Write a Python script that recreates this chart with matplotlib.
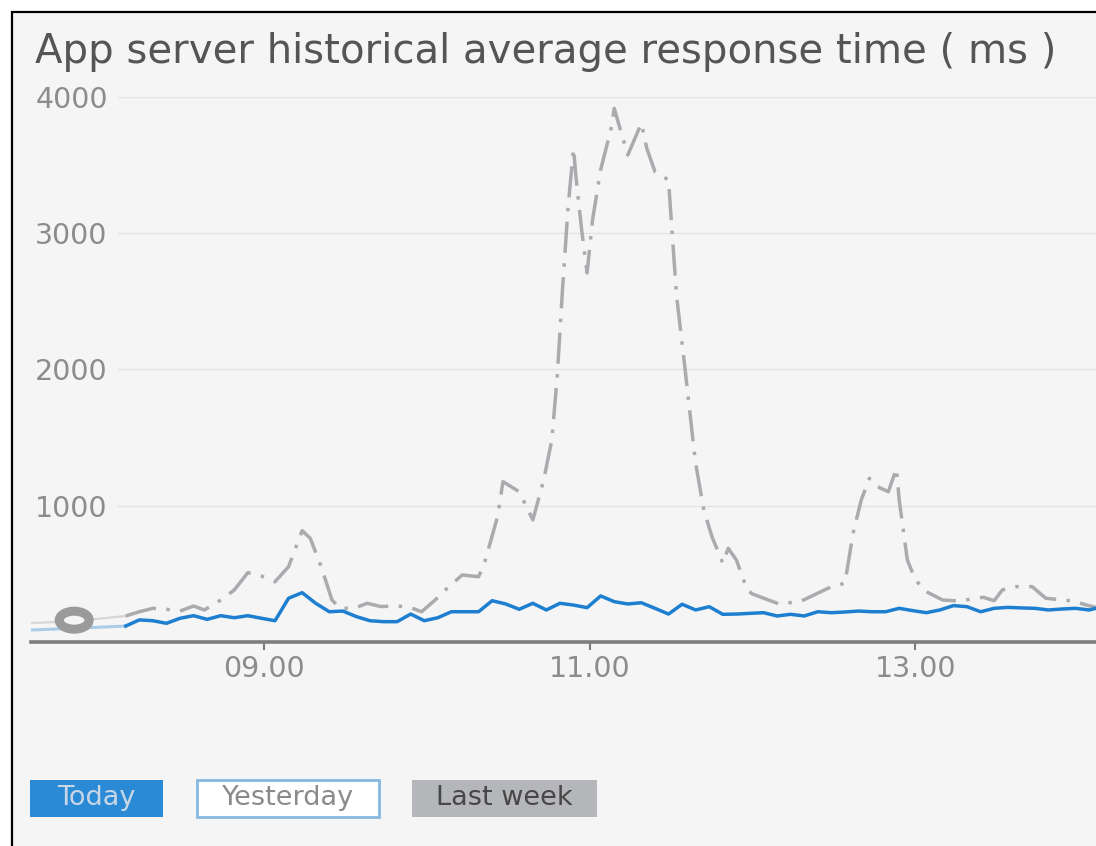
import matplotlib
matplotlib.use("Agg")
import matplotlib.pyplot as plt
from matplotlib.patches import Rectangle, Ellipse

# values (clock time, response time in ms)
today_times = ["08:09", "08:14", "08:19", "08:24", "08:29", "08:34", "08:39", "08:44",
               "08:49", "08:54", "08:59", "09:04", "09:09", "09:14", "09:19", "09:24",
               "09:29", "09:34", "09:39", "09:44", "09:49", "09:54", "09:59", "10:04",
               "10:09", "10:14", "10:19", "10:24", "10:29", "10:34", "10:39", "10:44",
               "10:49", "10:54", "10:59", "11:04", "11:09", "11:14", "11:19", "11:24",
               "11:29", "11:34", "11:39", "11:44", "11:49", "11:54", "11:59", "12:04",
               "12:09", "12:14", "12:19", "12:24", "12:29", "12:34", "12:39", "12:44",
               "12:49", "12:54", "12:59", "13:04", "13:09", "13:14", "13:19", "13:24",
               "13:29", "13:34", "13:39", "13:44", "13:49", "13:54", "13:59", "14:04",
               "14:09"]
today_ms = [115, 160, 154, 135, 172, 191, 164, 191,
            176, 191, 172, 154, 319, 360, 282, 220,
            225, 184, 154, 147, 147, 203, 154, 176,
            220, 220, 220, 301, 277, 238, 282, 233,
            282, 269, 250, 336, 294, 277, 286, 245,
            203, 275, 233, 257, 201, 203, 208, 213,
            189, 201, 189, 220, 213, 218, 225, 220,
            220, 245, 228, 213, 233, 265, 257, 220,
            245, 252, 248, 245, 233, 240, 245, 233,
            257]

last_week_times = ["08:09", "08:14", "08:19", "08:24", "08:29", "08:34", "08:38", "08:44",
                   "08:49", "08:54", "08:59", "09:04", "09:09", "09:14", "09:17", "09:21",
                   "09:25", "09:28", "09:33", "09:38", "09:43", "09:48", "09:53", "09:58",
                   "10:03", "10:08", "10:13", "10:19", "10:21", "10:26", "10:28", "10:34",
                   "10:39", "10:41", "10:43", "10:46", "10:48", "10:50", "10:52", "10:54",
                   "10:55", "10:57", "10:59", "11:01", "11:04", "11:08", "11:09", "11:12",
                   "11:14", "11:19", "11:21", "11:24", "11:29", "11:30", "11:32", "11:35",
                   "11:38", "11:39", "11:42", "11:45", "11:49", "11:51", "11:54", "11:58",
                   "12:00", "12:10", "12:18", "12:29", "12:34", "12:37", "12:40", "12:43",
                   "12:46", "12:50", "12:53", "12:54", "12:57", "13:00", "13:04", "13:10",
                   "13:16", "13:25", "13:29", "13:32", "13:37", "13:43", "13:48", "13:58",
                   "14:03", "14:09"]
last_week_ms = [189, 220, 245, 238, 225, 262, 233, 306,
                380, 507, 482, 440, 551, 815, 759, 551,
                306, 245, 245, 282, 258, 262, 257, 220,
                306, 404, 490, 477, 563, 918, 1175, 1101,
                894, 1040, 1187, 1481, 1950, 2607, 3194, 3622,
                3390, 3023, 2707, 3096, 3465, 3781, 3916, 3708,
                3574, 3806, 3622, 3451, 3390, 3096, 2533, 2019,
                1481, 1310, 967, 771, 576, 686, 600, 380,
                350, 275, 299, 404, 429, 796, 1040, 1200,
                1138, 1101, 1273, 1040, 600, 453, 367, 306,
                299, 326, 301, 380, 404, 404, 319, 299,
                269, 240]

# faded part before the selected range
yesterday_times = ["07:34", "07:50", "08:09"]
yesterday_ms = [86, 98, 115]
early_week_times = ["07:34", "07:50", "08:09"]
early_week_ms = [137, 150, 189]
handle_time = "07:50"
handle_ms = 158

x_ticks = ["09:00", "11:00", "13:00"]
x_tick_labels = ["09.00", "11.00", "13.00"]
y_ticks = [1000, 2000, 3000, 4000]
legend_labels = ["Today", "Yesterday", "Last week"]
title = "App server historical average response time ( ms )"


def hours(t):
    h, m = t.split(":")
    return int(h) + int(m) / 60


W, H = 1096, 846
fig = plt.figure(figsize=(W / 100, H / 100), dpi=100)
fig.patch.set_facecolor("white")

# panel background with the black frame (top and left edges visible)
fig.patches.append(Rectangle((12 / W, -0.1), 1.1, 1 - 12 / H + 0.1, transform=fig.transFigure,
                             facecolor="#f5f5f5", edgecolor="black", lw=1.6, zorder=-5))

fig.text(35 / W, 1 - 52 / H, title, fontsize=29, color="#555555", ha="left", va="center")

ax = fig.add_axes([31 / W, (H - 641.7) / H, (W - 31) / W, (641.7 - 96.9) / H])
ax.set_zorder(2)
ax.set_facecolor("none")
ax.set_xlim(hours("07:34") + 0.0015, 14.1086)
ax.set_ylim(0, 4000)

for s in ["top", "right", "left"]:
    ax.spines[s].set_visible(False)
ax.spines["bottom"].set_color("#7d7d7d")
ax.spines["bottom"].set_linewidth(2.6)

ax.set_xticks([hours(t) for t in x_ticks])
ax.set_xticklabels(x_tick_labels)
ax.tick_params(axis="x", length=5.8, width=1.5, color="#7d7d7d", pad=4,
               labelsize=20.5, labelcolor="#8c8c8c")
ax.set_yticks(y_ticks)
ax.tick_params(axis="y", length=0, pad=-3, labelsize=20.5, labelcolor="#8c8c8c")
for lbl in ax.get_yticklabels():
    lbl.set_horizontalalignment("left")

for v in y_ticks:
    ax.axhline(v, xmin=(118 - 31) / (W - 31), color="#e3e3e3", lw=1, zorder=0)

ax.plot([hours(t) for t in early_week_times], early_week_ms, color="#d6d6d6", lw=1.6, zorder=1)
ax.plot([hours(t) for t in yesterday_times], yesterday_ms, color="#a9cde9", lw=2.2, zorder=1)
ax.plot([hours(t) for t in last_week_times], last_week_ms, color="#a9abae", lw=2.5,
        ls=(0, (9, 3, 1, 3)), zorder=2)
ax.plot([hours(t) for t in today_times], today_ms, color="#1e7fd0", lw=2.5,
        solid_joinstyle="round", zorder=3)

ax.add_patch(Ellipse((hours(handle_time), handle_ms), width=30 / 163, height=18 / 0.13621,
                     facecolor="#f4f4f4", edgecolor="#9a9a9a", lw=6.5, zorder=4))

# toggle buttons under the chart
boxes = [(30, 163, "#2a8ad5", "none", "#c8d6e6"),
         (197, 379, "white", "#86b8e0", "#8a8a8a"),
         (412, 597, "#b5b6b9", "none", "#474747")]
for label, (x0, x1, fc, ec, tc) in zip(legend_labels, boxes):
    fig.patches.append(Rectangle((x0 / W, 1 - 817 / H), (x1 - x0) / W, 37 / H,
                                 transform=fig.transFigure, facecolor=fc, edgecolor=ec, lw=2))
    fig.text((x0 + x1) / 2 / W, 1 - 798 / H, label, fontsize=19.5, color=tc,
             ha="center", va="center")

fig.savefig("out.png", dpi=100)
